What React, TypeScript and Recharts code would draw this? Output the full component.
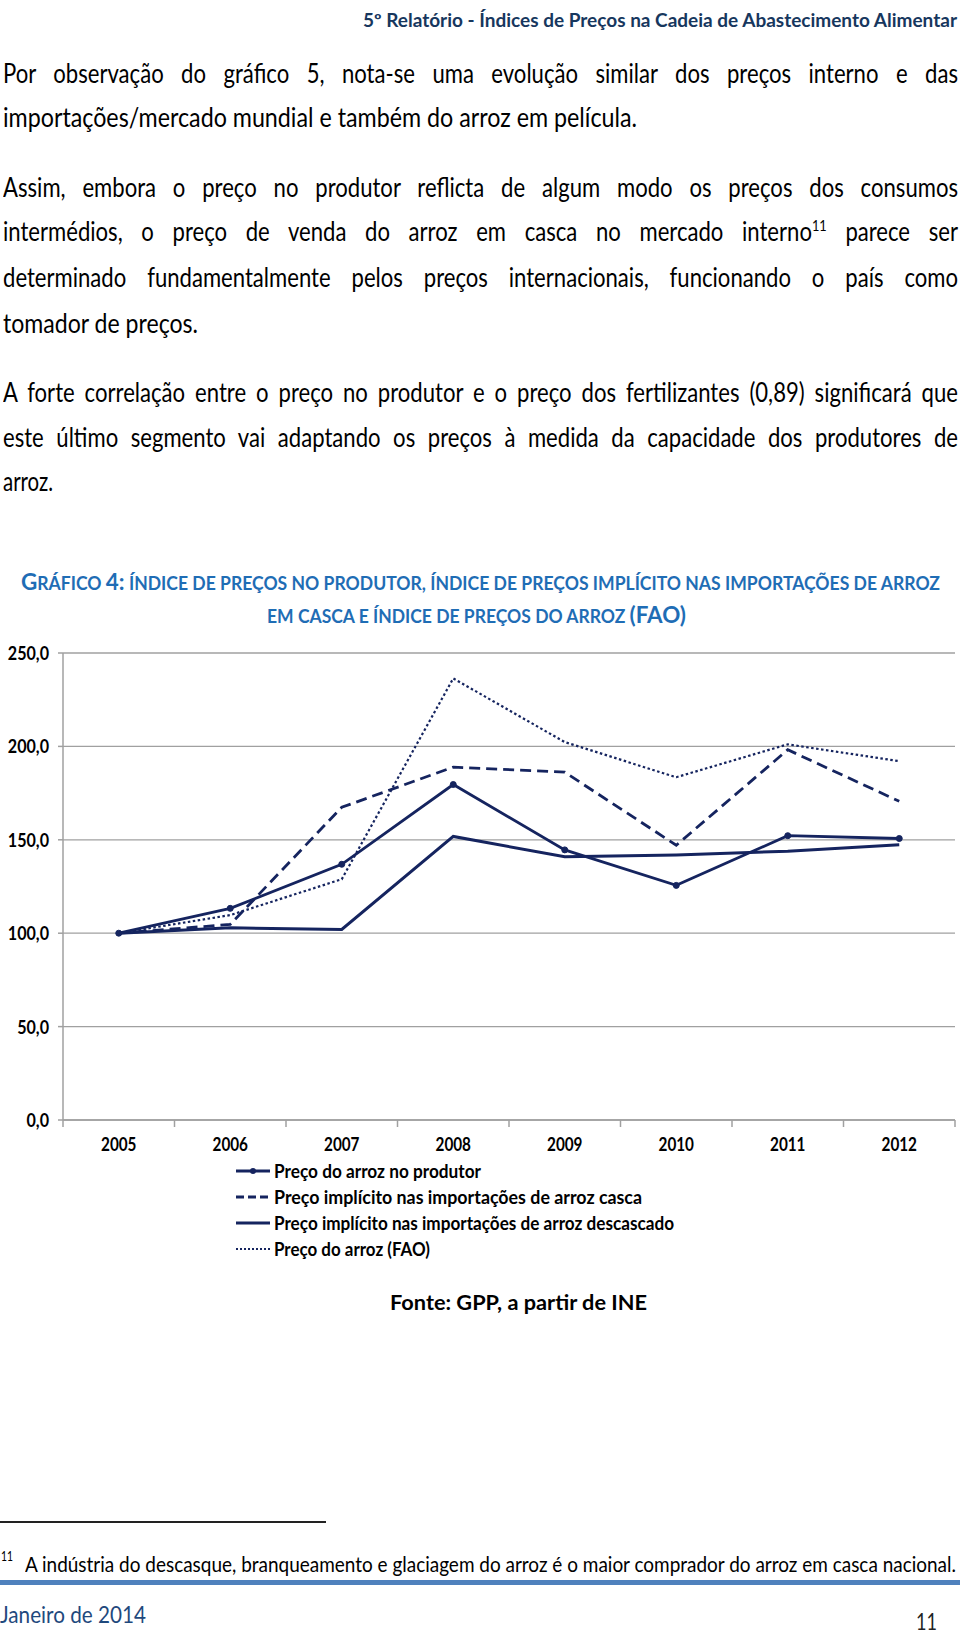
import React, { useLayoutEffect, useRef } from 'react';
import { LineChart, Line, XAxis, YAxis, CartesianGrid } from 'recharts';

const years = ['2005', '2006', '2007', '2008', '2009', '2010', '2011', '2012'];
const produtor = [100, 113.3, 136.9, 179.6, 144.6, 125.6, 152.2, 150.7];
const casca = [100, 104.7, 167.4, 188.9, 186.2, 147.1, 198.2, 170.6];
const descascado = [100, 102.9, 102.0, 151.8, 140.9, 141.9, 143.9, 147.3];
const fao = [100, 109.7, 128.9, 236.4, 202.3, 183.5, 201.1, 192.1];
const yTicks = [0, 50, 100, 150, 200, 250];
const boundaryTicks = [0, 1, 2, 3, 4, 5, 6, 7, 8];
const seriesNames = [
  'Preço do arroz no produtor',
  'Preço implícito nas importações de arroz casca',
  'Preço implícito nas importações de arroz descascado',
  'Preço do arroz (FAO)',
];
const legendWidths = [207, 368, 400, 156];

const data = years.map((y, i) => ({
  year: y,
  pos: i + 0.5,
  produtor: produtor[i],
  casca: casca[i],
  descascado: descascado[i],
  fao: fao[i],
}));

const FONT = 'Lato, "Open Sans", sans-serif';
const NAVY = '#15245f';
const GRID = '#a0a0a0';
const K = 0.85;

type TLProps = {
  x: number;
  y: number;
  w: number;
  size: number;
  weight?: number | string;
  color?: string;
  justify?: boolean;
  children: React.ReactNode;
};

function TL({ x, y, w, size, weight = 400, color = '#000', justify = false, children }: TLProps) {
  const ref = useRef<HTMLDivElement>(null);
  const lh = Math.round(size * 1.25);
  useLayoutEffect(() => {
    const el = ref.current;
    if (!el) return;
    el.style.transform = 'none';
    el.style.width = 'auto';
    const nat = el.getBoundingClientRect().width;
    if (!(nat > 0)) return;
    if (justify) {
      const k = Math.min(K, w / nat);
      el.style.width = `${w / k}px`;
      el.style.transform = `scaleX(${k})`;
    } else {
      el.style.transform = `scaleX(${w / nat})`;
    }
  });
  return (
    <div
      ref={ref}
      style={{
        position: 'absolute',
        left: x,
        top: y - lh / 2,
        height: lh,
        lineHeight: `${lh}px`,
        fontSize: size,
        fontWeight: weight as any,
        color,
        fontFamily: FONT,
        textAlign: 'justify',
        textAlignLast: justify ? 'justify' : 'left',
        whiteSpace: 'nowrap',
        display: 'inline-block',
        transformOrigin: '0 0',
      } as React.CSSProperties}
    >
      {children}
    </div>
  );
}

const fmt = (v: number) => v.toFixed(1).replace('.', ',');

function YTick(props: any) {
  const { x, y, payload } = props;
  return (
    <text
      transform={`translate(${x},${y}) scale(${K},1)`}
      textAnchor="end"
      dominantBaseline="central"
      fontFamily={FONT}
      fontSize={19}
      fontWeight={700}
      fill="#000"
    >
      {fmt(payload.value)}
    </text>
  );
}

function XTick(props: any) {
  const { x, y, payload } = props;
  return (
    <text
      transform={`translate(${x},${y}) scale(${K},1)`}
      textAnchor="middle"
      dy="0.71em"
      fontFamily={FONT}
      fontSize={18}
      fontWeight={700}
      fill="#000"
    >
      {payload.value}
    </text>
  );
}

function Chart() {
  return (
    <div style={{ position: 'absolute', left: 0, top: 640, width: 960, height: 519 }}>
      <LineChart width={960} height={519} data={data} margin={{ top: 13, right: 5, bottom: 0, left: 0 }}>
        <CartesianGrid horizontal vertical={false} stroke={GRID} strokeWidth={1.3} />
        <XAxis
          xAxisId={0}
          dataKey="pos"
          type="number"
          domain={[0, 8]}
          ticks={boundaryTicks}
          height={1}
          tickSize={7}
          tickFormatter={() => ''}
          stroke={GRID}
          axisLine={{ stroke: GRID, strokeWidth: 1.5 }}
          tickLine={{ stroke: GRID, strokeWidth: 1.5 }}
          allowDataOverflow
        />
        <XAxis
          xAxisId={1}
          dataKey="year"
          scale="band"
          height={38}
          axisLine={false}
          tickLine={false}
          tickMargin={11}
          tick={<XTick />}
        />
        <YAxis
          domain={[0, 250]}
          ticks={yTicks}
          width={63}
          axisLine={{ stroke: GRID, strokeWidth: 1.5 }}
          tickLine={{ stroke: GRID, strokeWidth: 1.5 }}
          tickSize={5}
          tickMargin={9}
          tick={<YTick />}
        />
        <Line xAxisId={1} dataKey="fao" stroke={NAVY} strokeWidth={2.2} strokeDasharray="2.5 2.5" dot={false} isAnimationActive={false} />
        <Line xAxisId={1} dataKey="casca" stroke={NAVY} strokeWidth={2.8} strokeDasharray="11 6" dot={false} isAnimationActive={false} />
        <Line xAxisId={1} dataKey="descascado" stroke={NAVY} strokeWidth={3} dot={false} isAnimationActive={false} />
        <Line
          xAxisId={1}
          dataKey="produtor"
          stroke={NAVY}
          strokeWidth={2.8}
          dot={{ r: 3, fill: NAVY, stroke: NAVY, strokeWidth: 1 }}
          isAnimationActive={false}
        />
      </LineChart>
    </div>
  );
}

function LegendSample({ kind }: { kind: number }) {
  const dash = kind === 1 ? '8 4' : kind === 3 ? '2 2' : undefined;
  const sw = kind === 3 ? 2 : 3;
  return (
    <svg width={34} height={10} style={{ position: 'absolute', left: 0, top: -5 }}>
      <line x1={0} y1={5} x2={34} y2={5} stroke={NAVY} strokeWidth={sw} strokeDasharray={dash} />
      {kind === 0 && <circle cx={17} cy={5} r={3} fill={NAVY} />}
    </svg>
  );
}

function Legend() {
  const rows = [1171, 1197, 1223, 1249];
  return (
    <>
      {seriesNames.map((n, i) => (
        <div key={n} style={{ position: 'absolute', left: 236, top: rows[i], height: 0 }}>
          <LegendSample kind={i} />
          <TL x={38} y={0} w={legendWidths[i]} size={18} weight={700}>
            {n}
          </TL>
        </div>
      ))}
    </>
  );
}

const TITLE_BLUE = '#1f6db5';

export default function App() {
  return (
    <div
      style={{
        position: 'absolute',
        left: 0,
        top: 0,
        width: 960,
        height: 1633,
        background: '#fff',
        overflow: 'hidden',
        fontFamily: FONT,
      }}
    >
      <TL x={363} y={20} w={594} size={18} weight={700} color="#17375e">
        5º Relatório - Índices de Preços na Cadeia de Abastecimento Alimentar
      </TL>

      <TL x={3} y={73} w={955} size={26} justify>
        Por observação do gráfico 5, nota-se uma evolução similar dos preços interno e das
      </TL>
      <TL x={3} y={117} w={634} size={26}>
        importações/mercado mundial e também do arroz em película.
      </TL>

      <TL x={3} y={187} w={955} size={26} justify>
        Assim, embora o preço no produtor reflicta de algum modo os preços dos consumos
      </TL>
      <TL x={3} y={231} w={955} size={26} justify>
        intermédios, o preço de venda do arroz em casca no mercado interno
        <span style={{ fontSize: 15, verticalAlign: 'super', lineHeight: 0 }}>11</span> parece ser
      </TL>
      <TL x={3} y={277} w={955} size={26} justify>
        determinado fundamentalmente pelos preços internacionais, funcionando o país como
      </TL>
      <TL x={3} y={323} w={195} size={26}>
        tomador de preços.
      </TL>

      <TL x={3} y={392} w={955} size={26} justify>
        A forte correlação entre o preço no produtor e o preço dos fertilizantes (0,89) significará que
      </TL>
      <TL x={3} y={437} w={955} size={26} justify>
        este último segmento vai adaptando os preços à medida da capacidade dos produtores de
      </TL>
      <TL x={3} y={481} w={50} size={26}>
        arroz.
      </TL>

      <TL x={21} y={581} w={919} size={18} weight={700} color={TITLE_BLUE}>
        <span style={{ fontSize: 23 }}>G</span>RÁFICO <span style={{ fontSize: 23 }}>4:</span> ÍNDICE DE PREÇOS NO
        PRODUTOR, ÍNDICE DE PREÇOS IMPLÍCITO NAS IMPORTAÇÕES DE ARROZ
      </TL>
      <TL x={267} y={614} w={419} size={18} weight={700} color={TITLE_BLUE}>
        EM CASCA E ÍNDICE DE PREÇOS DO ARROZ <span style={{ fontSize: 23 }}>(FAO)</span>
      </TL>

      <Chart />
      <Legend />

      <TL x={390} y={1302} w={257} size={21} weight={700}>
        Fonte: GPP, a partir de INE
      </TL>

      <div style={{ position: 'absolute', left: 0, top: 1521, width: 326, height: 2, background: '#222' }} />
      <TL x={1} y={1556} w={12} size={13}>
        11
      </TL>
      <TL x={25} y={1564} w={931} size={21}>
        A indústria do descasque, branqueamento e glaciagem do arroz é o maior comprador do arroz em casca nacional.
      </TL>
      <div style={{ position: 'absolute', left: 0, top: 1580, width: 960, height: 5, background: '#4f81bd' }} />
      <TL x={0} y={1614} w={146} size={23} color="#1f497d">
        Janeiro de 2014
      </TL>
      <TL x={916} y={1621} w={21} size={23} color="#222">
        11
      </TL>
    </div>
  );
}
